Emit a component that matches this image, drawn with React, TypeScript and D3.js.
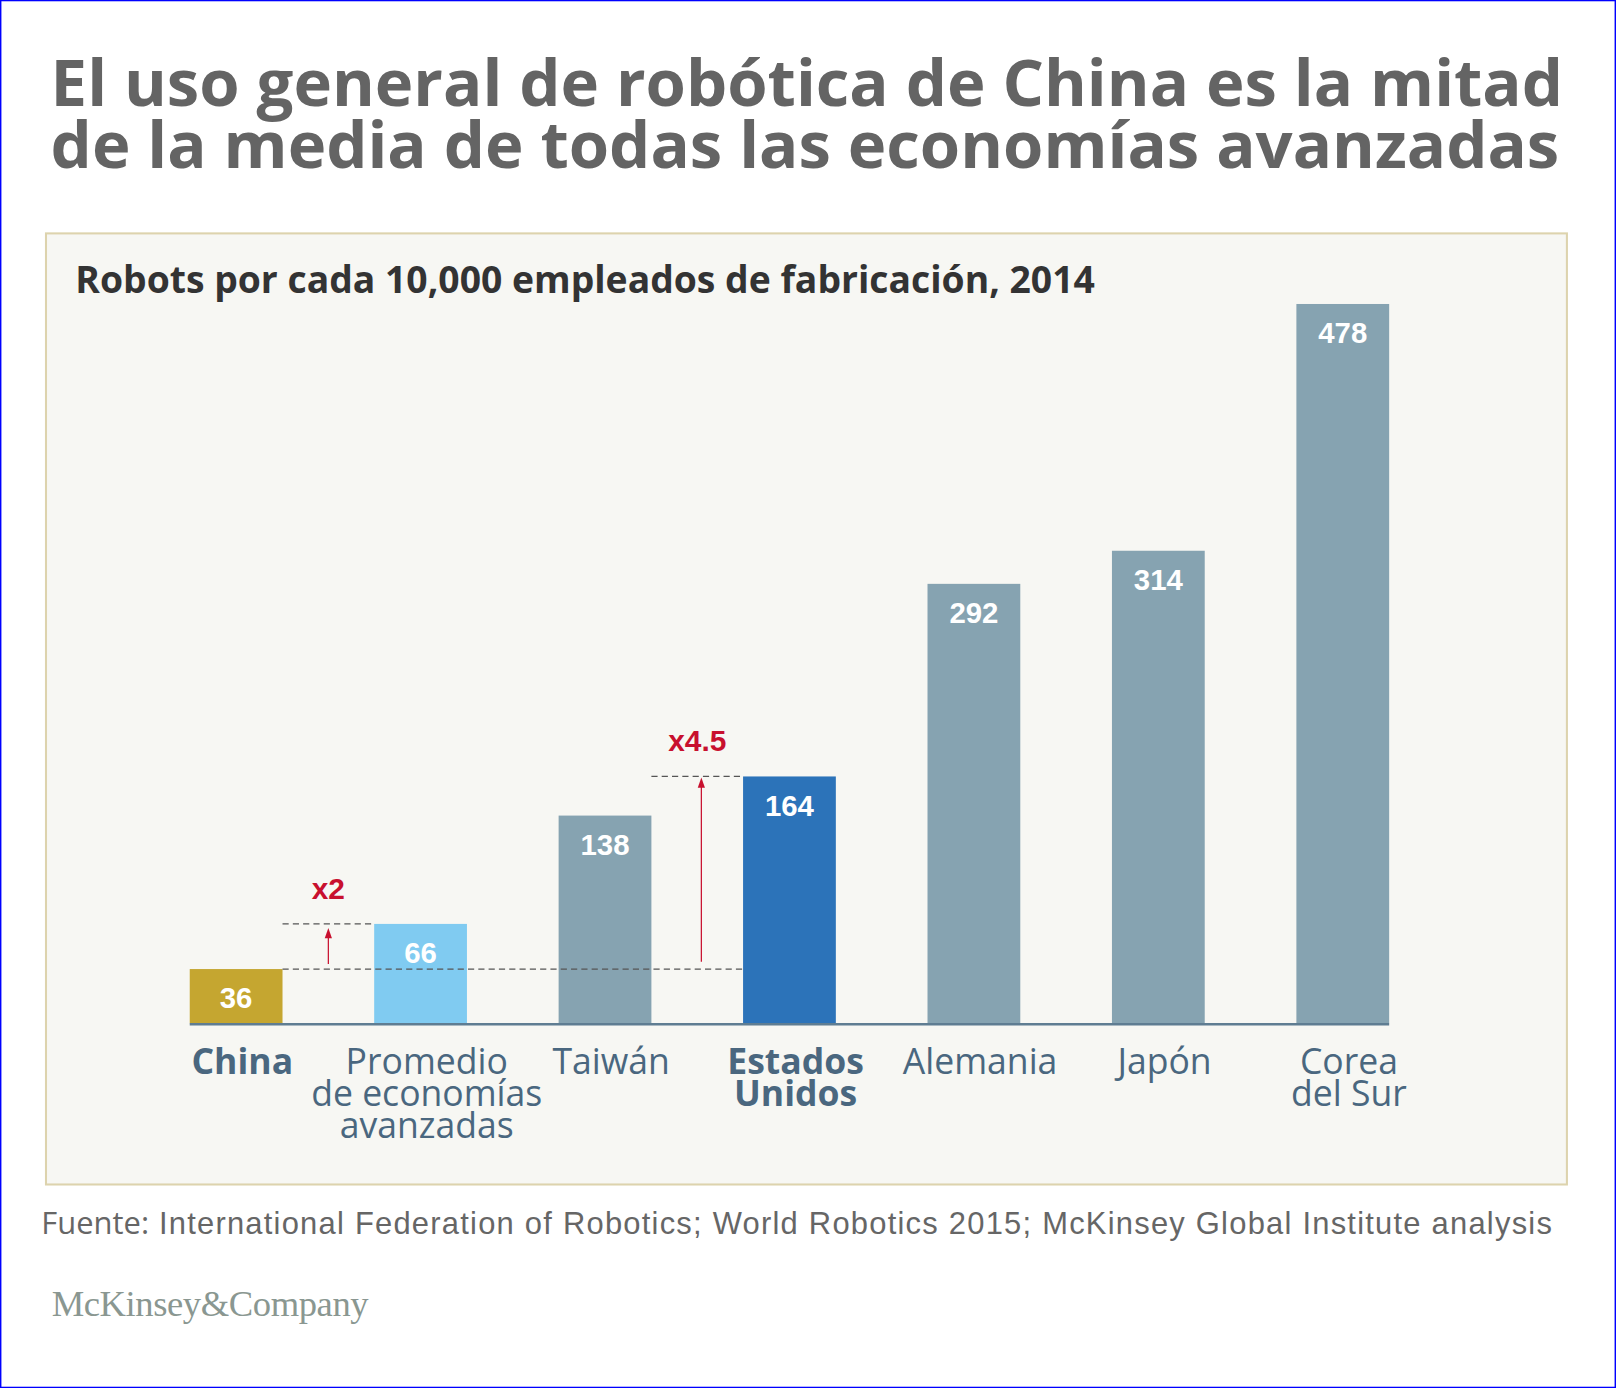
import React from "react";
import * as d3 from "d3";

// chart values
const categories = ["China", "Promedio", "Taiwán", "Estados Unidos", "Alemania", "Japón", "Corea del Sur"];
const values = [36, 66, 138, 164, 292, 314, 478];
const labelLines = [
  ["China"],
  ["Promedio", "de economías", "avanzadas"],
  ["Taiwán"],
  ["Estados", "Unidos"],
  ["Alemania"],
  ["Japón"],
  ["Corea", "del Sur"],
];
const boldLabels = ["China", "Estados Unidos"];
const barColors = ["#c5a630", "#80cbf1", "#86a3b1", "#2c73b9", "#86a3b1", "#86a3b1", "#86a3b1"];

const W = 1568;
const H = 1347;
const x0 = 184;
const x1 = 1348;
const yBase = 993;
const yTop = 295;
const red = "#c8102e";

export default function App() {
  const x = d3.scaleBand<string>().domain(categories).range([x0, x1]).paddingInner(0.497).paddingOuter(0);
  const y = d3.scaleLinear().domain([0, d3.max(values) as number]).range([yBase, yTop]);
  const bw = x.bandwidth();

  const chinaR = (x("China") as number) + bw;
  const promL = x("Promedio") as number;
  const taiR = (x("Taiwán") as number) + bw;
  const usL = x("Estados Unidos") as number;
  const arrow1X = (chinaR + promL) / 2;
  const arrow2X = (taiR + usL) / 2 + 4;

  const arrow = (ax: number, yFrom: number, yTo: number, key: string) => (
    <g key={key}>
      <line x1={ax} x2={ax} y1={yFrom} y2={yTo + 8} stroke={red} strokeWidth={1.2} />
      <path d={`M${ax - 3.5},${yTo + 10} L${ax},${yTo} L${ax + 3.5},${yTo + 10} Z`} fill={red} />
    </g>
  );

  return (
    <svg
      width={1616}
      height={1388}
      viewBox={`0 0 ${W} ${H}`}
      style={{ position: "absolute", left: 0, top: 0 }}
    >
      <rect x={0.5} y={0.5} width={W - 1} height={H - 1} fill="#ffffff" stroke="#0000ff" strokeWidth={1.5} />
      <g fontFamily="'Open Sans', sans-serif" fontWeight={700} fill="#646464" fontSize={63.3}>
        <text x={49} y={103}>El uso general de robótica de China es la mitad</text>
        <text x={49} y={163}>de la media de todas las economías avanzadas</text>
      </g>

      <rect x={44.5} y={226.5} width={1476} height={923} fill="#f7f7f3" stroke="#ddd3ad" strokeWidth={2} />
      <text x={73} y={284} fontFamily="'Open Sans', sans-serif" fontWeight={700} fontSize={36.2} fill="#333333">
        Robots por cada 10,000 empleados de fabricación, 2014
      </text>

      {/* bars */}
      {categories.map((c, i) => (
        <g key={c}>
          <rect x={x(c)} y={y(values[i])} width={bw} height={yBase - y(values[i])} fill={barColors[i]} />
          <text
            x={(x(c) as number) + bw / 2}
            y={y(values[i]) + 38}
            textAnchor="middle"
            fontFamily="'Liberation Sans', Arial, sans-serif"
            fontWeight={700}
            fontSize={28.5}
            fill="#ffffff"
          >
            {values[i]}
          </text>
        </g>
      ))}
      <line x1={x0} x2={x1} y1={yBase + 1} y2={yBase + 1} stroke="#5f7d92" strokeWidth={2.5} />

      {/* category labels */}
      {categories.map((c, i) => (
        <text
          key={"l" + c}
          x={(x(c) as number) + bw / 2 + 6}
          y={1042}
          textAnchor="middle"
          fontFamily="'Open Sans', sans-serif"
          fontWeight={boldLabels.includes(c) ? 700 : 400}
          fontSize={34.5}
          fill="#4a677f"
        >
          {labelLines[i].map((t, j) => (
            <tspan key={j} x={(x(c) as number) + bw / 2 + 6} dy={j === 0 ? 0 : 31}>
              {t}
            </tspan>
          ))}
        </text>
      ))}

      {/* comparison annotations */}
      <g stroke="#555" strokeWidth={1.2} strokeDasharray="6,4">
        <line x1={chinaR} x2={promL} y1={y(66)} y2={y(66)} />
        <line x1={chinaR} x2={usL} y1={y(36)} y2={y(36)} />
        <line x1={taiR} x2={usL} y1={y(164)} y2={y(164)} />
      </g>
      {arrow(arrow1X, y(36) - 5, y(66) + 4, "a1")}
      {arrow(arrow2X, y(36) - 7, y(164) + 1, "a2")}
      <g fontFamily="'Liberation Sans', Arial, sans-serif" fontWeight={700} fontSize={29} fill={red}>
        <text x={arrow1X} y={872} textAnchor="middle">x2</text>
        <text x={arrow2X - 4} y={729} textAnchor="middle">x4.5</text>
      </g>

      <text x={40} y={1198} fontSize={30} fill="#666666" fontFamily="'Liberation Sans', Arial, sans-serif" letterSpacing={1.2}>
        <tspan fontFamily="'Open Sans', sans-serif" letterSpacing={0}>Fuente:</tspan> International Federation of Robotics; World Robotics 2015; McKinsey Global Institute analysis
      </text>
      <text x={50} y={1277} fontSize={35.5} fill="#8a9791" fontFamily="'Liberation Serif', 'DejaVu Serif', serif" letterSpacing={-0.4}>
        McKinsey&amp;Company
      </text>
    </svg>
  );
}
